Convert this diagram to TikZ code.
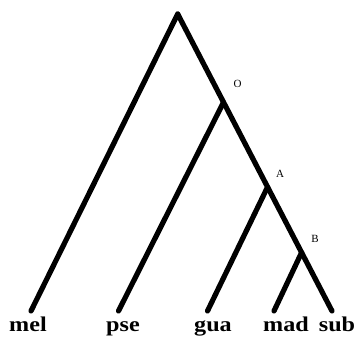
\documentclass[tikz,border=0pt]{standalone}
\usepackage{fontspec}
\setmainfont{Liberation Serif}
\newfontfamily\taxonfont[FakeStretch=1.15]{Liberation Serif}
\usetikzlibrary{calc}
\tikzset{
  every picture/.style={line width=5.2pt},
  branch/.style={draw=black, line width=5.2pt, line cap=round},
  taxon/.style={font=\taxonfont\bfseries\fontsize{21}{21}\selectfont, anchor=base, inner sep=0pt},
  clade/.style={font=\fontsize{11}{11}\selectfont, inner sep=0pt},
}

\begin{document}
\begin{tikzpicture}[x=1pt, y=-1pt]
  \useasboundingbox (0,0) rectangle (357,340);

  % root and tips
  \coordinate (root) at (177.7,14);
  \coordinate (mel)  at (31,311);
  \coordinate (pse)  at (118.5,311);
  \coordinate (gua)  at (207.5,311);
  \coordinate (mad)  at (274,311);
  \coordinate (sub)  at (332,311);

  % internal nodes on the right spine
  \coordinate (O) at ($(root)!0.297!(sub)$);
  \coordinate (A) at ($(root)!0.5825!(sub)$);
  \coordinate (B) at ($(root)!0.803!(sub)$);

  % branches
  \draw[branch] (root) -- (mel);
  \draw[branch] (root) -- (sub);
  \draw[branch] (O) -- (pse);
  \draw[branch] (A) -- (gua);
  \draw[branch] (B) -- (mad);

  % clade labels
  \node[clade] (oname) at (237.7,84)  {O};
  \node[clade] (aname) at (280,173.5) {A};
  \node[clade] (bname) at (315,239)   {B};

  % taxa
  \node[taxon] (melname) at (28,331.5)  {mel};
  \node[taxon] (psename) at (123,331.5) {pse};
  \node[taxon] (guaname) at (213,331.5) {gua};
  \node[taxon] (madname) at (286,331.5) {mad};
  \node[taxon] (subname) at (337,331.5) {sub};
\end{tikzpicture}
\end{document}
